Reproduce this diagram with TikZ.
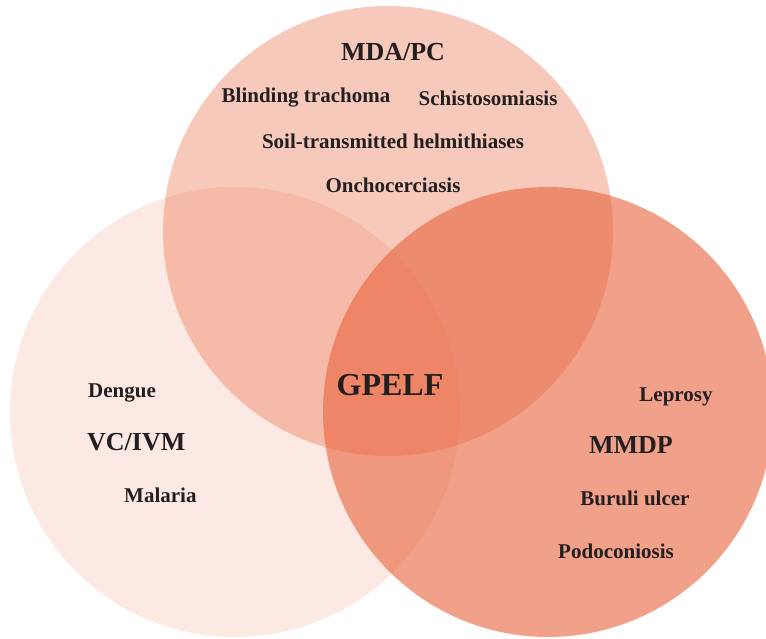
\documentclass[tikz,border=0pt]{standalone}
\usepackage{fontspec}
\setmainfont{Liberation Serif}
\definecolor{vbase}{RGB}{231,96,56}
\definecolor{vtext}{RGB}{35,31,32}
\begin{document}
\begin{tikzpicture}[x=1pt,y=1pt,
  set/.style={fill=vbase,draw=none},
  head/.style={font=\bfseries\fontsize{26}{28}\selectfont,text=vtext,inner sep=0pt},
  item/.style={font=\bfseries\fontsize{21}{23}\selectfont,text=vtext,inner sep=0pt},
  core/.style={font=\bfseries\fontsize{32}{35}\selectfont,text=vtext,inner sep=0pt}]
\useasboundingbox (0,0) rectangle (766,638);
\begin{scope}
\clip (0,0) rectangle (766,638);
\fill[set,fill opacity=0.14] (235,226) circle (225);
\fill[set,fill opacity=0.34] (388,407) circle (225);
\fill[set,fill opacity=0.59] (548,226) circle (225);
\end{scope}
\node[head] (mda) at (393,586) {MDA/PC};
\node[item] (bt) at (306,540) {Blinding trachoma};
\node[item] (sch) at (488,540) {Schistosomiasis};
\node[item] (sth) at (393,497) {Soil-transmitted helmithiases};
\node[item] (onc) at (393,453) {Onchocerciasis};
\node[core] (gp) at (390,253) {GPELF};
\node[item,anchor=west] (den) at (88,245) {Dengue};
\node[head,anchor=west] (vc) at (87,196) {VC/IVM};
\node[item,anchor=west] (mal) at (124,143) {Malaria};
\node[item] (lep) at (676,241) {Leprosy};
\node[head] (mm) at (631,193) {MMDP};
\node[item] (bu) at (635,140) {Buruli ulcer};
\node[item] (pod) at (616,87) {Podoconiosis};
\end{tikzpicture}
\end{document}
